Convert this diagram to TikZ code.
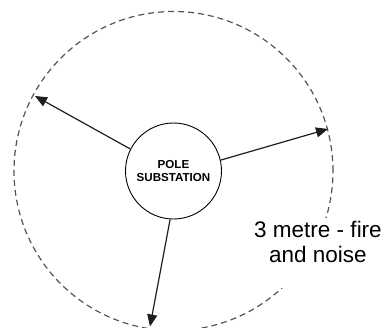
\documentclass[tikz,border=0pt]{standalone}
\usepackage{fontspec}
\setmainfont{Liberation Sans}
\usetikzlibrary{arrows.meta,positioning}
\definecolor{ring}{RGB}{85,85,85}
\definecolor{ink}{RGB}{30,30,30}

\tikzset{
  zone/.style={ring,line width=1.2pt,dash pattern=on 6pt off 4pt},
  spoke/.style={ink,line width=1.2pt,-{Triangle[length=12pt,width=10pt]}},
  subnode/.style={circle,draw=black,line width=0.9pt,minimum size=96pt,inner sep=0pt,
    font=\fontsize{11.6}{13}\selectfont\bfseries,align=center}
}

\begin{document}
\begin{tikzpicture}[x=1pt,y=1pt]
        \useasboundingbox (0,0) rectangle (385,327);
        % safety zone round the pole substation
        \draw[zone] (173.5,156) circle (159.5);
        \fill[white] (252,39) rectangle (385,109);
        \node[subnode] (sub) at (173.5,156) {POLE\\SUBSTATION};
        \coordinate (lefttip) at (35,231);
        \coordinate (righttip) at (328,198);
        \coordinate (downtip) at (150,0.5);
        \draw[spoke] (sub.153) -- (lefttip);
        \draw[spoke] (sub.13) -- (righttip);
        \draw[spoke] (sub.266) -- (downtip);
        \node[font=\fontsize{22.5}{25}\selectfont,align=center] (label) at (318,85)
          {3 metre - fire\\and noise};
      \end{tikzpicture}
\end{document}
